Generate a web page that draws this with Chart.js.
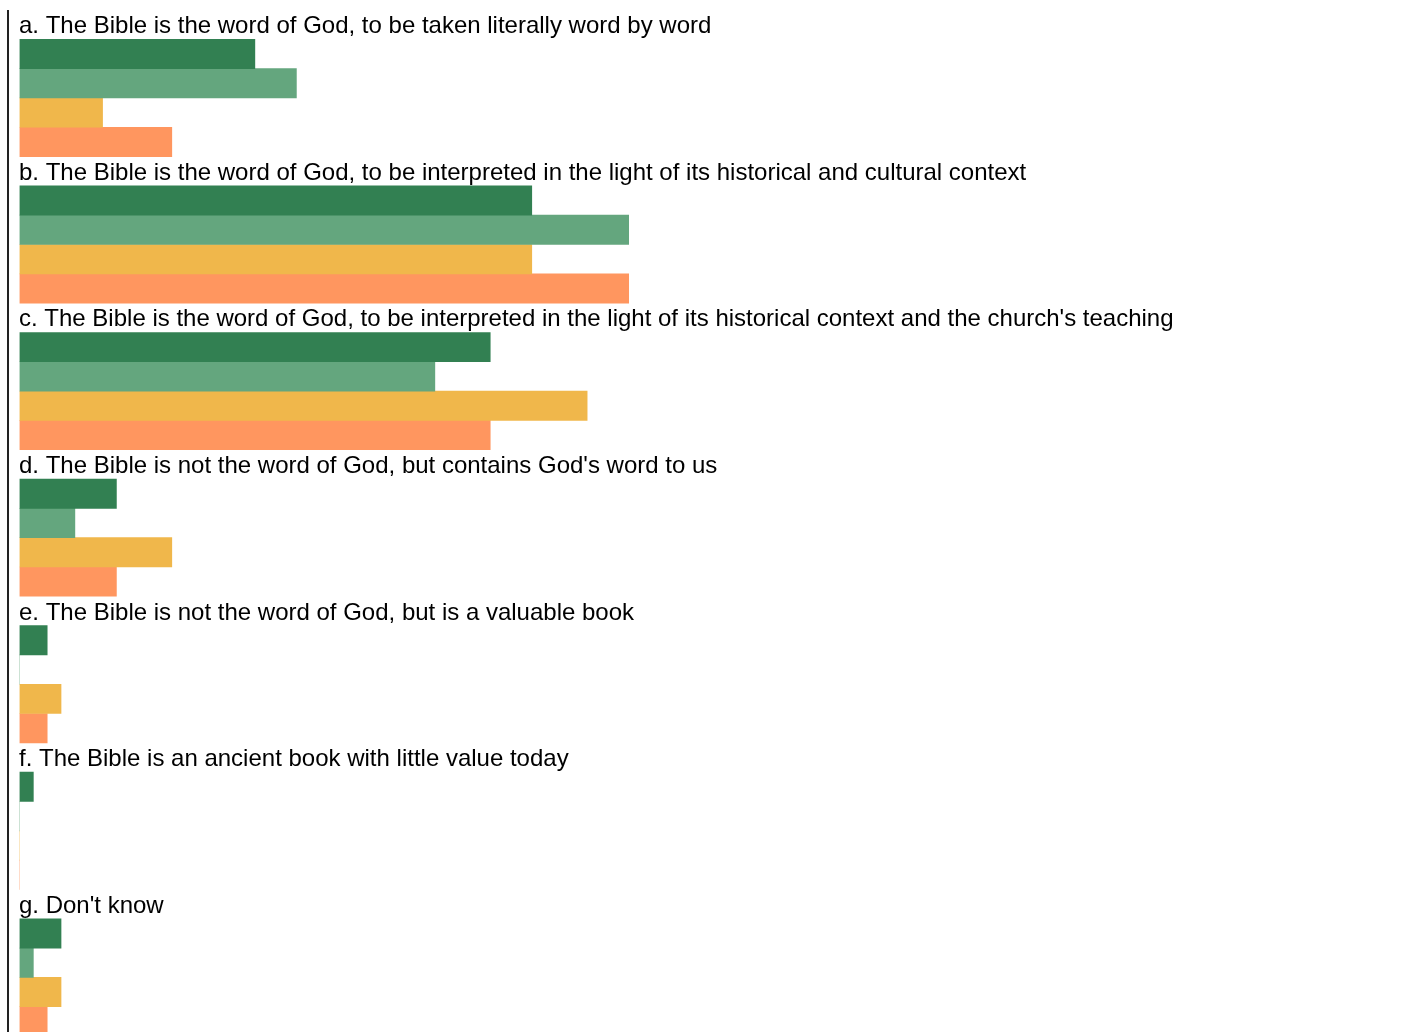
<!DOCTYPE html>
<html>
<head>
<meta charset="utf-8">
<style>
  html, body { margin: 0; padding: 0; background: #fff; overflow: hidden; }
  .wrap { position: relative; width: 1418px; height: 1036px; }
</style>
</head>
<body>
<div class="wrap">
  <canvas id="chart"></canvas>
</div>
<script src="https://cdn.jsdelivr.net/npm/chart.js"></script>
<script>
  const categories = [
    "a. The Bible is the word of God, to be taken literally word by word",
    "b. The Bible is the word of God, to be interpreted in the light of its historical and cultural context",
    "c. The Bible is the word of God, to be interpreted in the light of its historical context and the church's teaching",
    "d. The Bible is not the word of God, but contains God's word to us",
    "e. The Bible is not the word of God, but is a valuable book",
    "f. The Bible is an ancient book with little value today",
    "g. Don't know"
  ];

  // percentages
  const series1 = [17, 37, 34, 7, 2, 1, 3];
  const series2 = [20, 44, 30, 4, 0, 0, 1];
  const series3 = [6, 37, 41, 11, 3, 0, 3];
  const series4 = [11, 44, 34, 7, 2, 0, 2];

  const seriesNames = ["Group 1", "Group 2", "Group 3", "Group 4"];
  const colors = ['rgb(50,128,82)', 'rgb(100,166,126)', 'rgb(240,183,75)', 'rgb(255,150,95)'];

  // empty first slot in every group holds the question text
  const labelSlot = categories.map(() => 0);

  const datasets = [{
    label: 'label',
    data: labelSlot,
    backgroundColor: 'rgba(0,0,0,0)'
  }];
  [series1, series2, series3, series4].forEach((vals, i) => {
    datasets.push({
      label: seriesNames[i],
      data: vals,
      backgroundColor: colors[i]
    });
  });

  const groupLabels = {
    id: 'groupLabels',
    afterDatasetsDraw(chart) {
      const ctx = chart.ctx;
      const area = chart.chartArea;
      const meta = chart.getDatasetMeta(0);
      ctx.save();
      ctx.font = '24px "Liberation Sans", Arial, sans-serif';
      ctx.fillStyle = '#000';
      ctx.textAlign = 'left';
      ctx.textBaseline = 'middle';
      meta.data.forEach((bar, i) => {
        ctx.fillText(categories[i], area.left - 0.5, bar.y + 2);
      });
      // left rule
      ctx.strokeStyle = '#222';
      ctx.lineWidth = 2;
      ctx.beginPath();
      ctx.moveTo(8, area.top);
      ctx.lineTo(8, chart.height);
      ctx.stroke();
      ctx.restore();
    }
  };

  new Chart(document.getElementById('chart'), {
    type: 'bar',
    data: { labels: categories, datasets },
    options: {
      indexAxis: 'y',
      responsive: true,
      maintainAspectRatio: false,
      animation: false,
      layout: { padding: { left: 19.5, right: 14, top: 10, bottom: 0 } },
      datasets: { bar: { categoryPercentage: 1, barPercentage: 1 } },
      scales: {
        x: { min: 0, max: 100, display: false },
        y: { display: false }
      },
      plugins: {
        legend: { display: false },
        tooltip: { enabled: false }
      }
    },
    plugins: [groupLabels]
  });
</script>
</body>
</html>
